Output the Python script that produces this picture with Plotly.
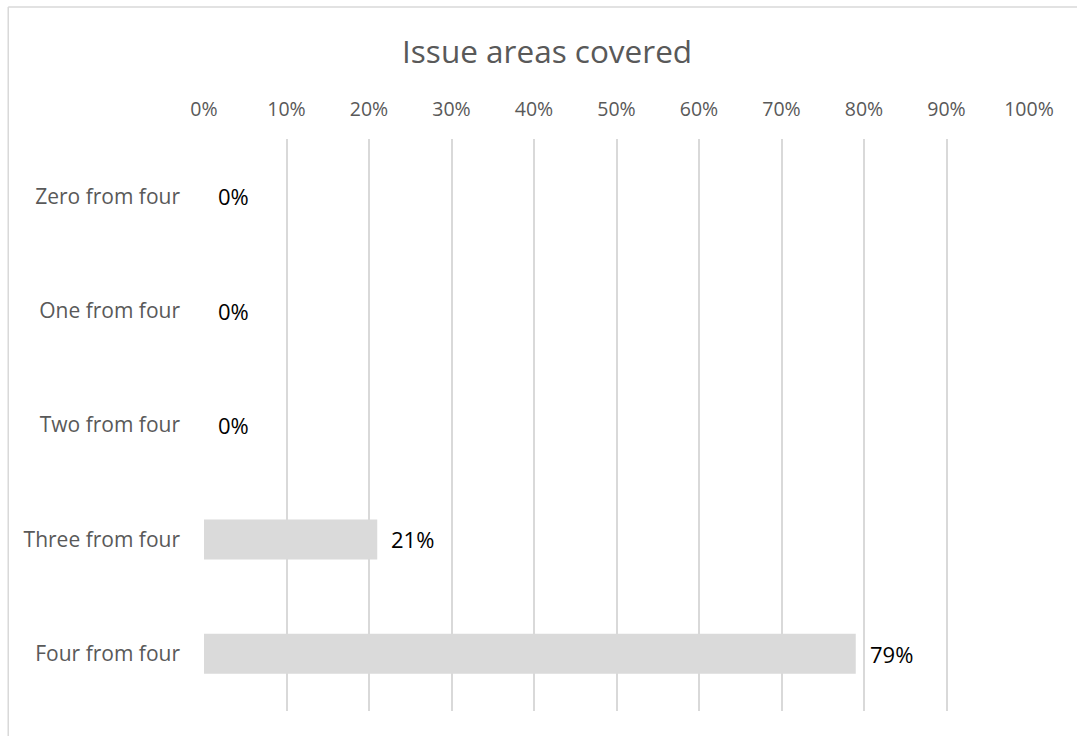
import plotly.graph_objects as go

categories = ["Zero from four", "One from four", "Two from four", "Three from four", "Four from four"]
values = [0, 0, 0, 21, 79]
tick_vals = [0, 10, 20, 30, 40, 50, 60, 70, 80, 90, 100]
tick_text = [f"{v}%" for v in tick_vals]
title_text = "Issue areas covered"

fig = go.Figure()
fig.add_trace(go.Bar(
    y=categories, x=values, orientation="h",
    marker=dict(color="#dadada", line=dict(width=0)),
    width=0.35, hoverinfo="skip",
))

for c, v in zip(categories, values):
    fig.add_annotation(
        x=v, y=c, text=f"{v}%", showarrow=False,
        xanchor="left", yanchor="middle", xshift=12,
        font=dict(family="Open Sans", size=22, color="#000000"),
    )

fig.update_layout(
    width=1077, height=736,
    margin=dict(l=203.5, r=47.5, t=139, b=24.5),
    paper_bgcolor="white", plot_bgcolor="white",
    showlegend=False,
    title=dict(text=title_text, x=0.508, xanchor="center", y=1 - 52 / 736, yanchor="middle",
               font=dict(family="Open Sans", size=31.5, color="#595959")),
    xaxis=dict(range=[0, 100], side="top", tickvals=tick_vals, ticktext=tick_text,
               showgrid=True, gridcolor="#d9d9d9", gridwidth=1.5,
               zeroline=False, showline=False, ticks="", ticklabelstandoff=18,
               tickfont=dict(family="Open Sans", size=19.5, color="#595959"), fixedrange=True),
    yaxis=dict(categoryorder="array", categoryarray=categories,
               autorange="reversed", showgrid=False, zeroline=False, showline=False,
               ticks="", ticklabelstandoff=23,
               tickfont=dict(family="Open Sans", size=21, color="#595959"), fixedrange=True),
    shapes=[
        dict(type="line", xref="paper", yref="paper", x0=-196 / 826, x1=1.06, y0=1 + 132 / 572, y1=1 + 132 / 572,
             line=dict(color="#d9d9d9", width=1.5)),
        dict(type="line", xref="paper", yref="paper", x0=-196 / 826, x1=-196 / 826, y0=1 + 132 / 572, y1=-0.05,
             line=dict(color="#d9d9d9", width=1.5)),
    ],
)

fig.write_html("out.html")
